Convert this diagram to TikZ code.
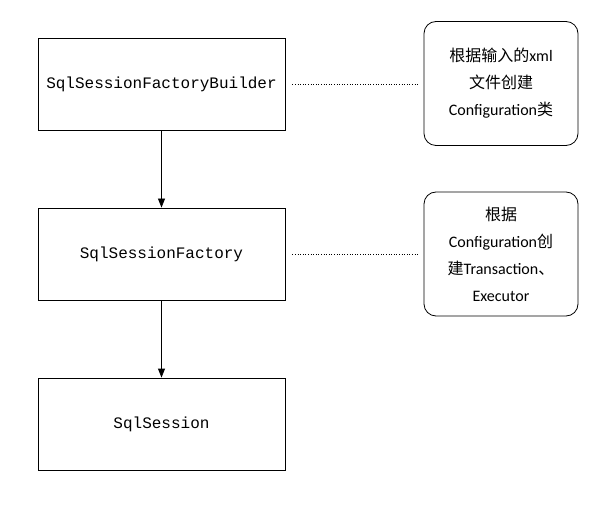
\documentclass[tikz,border=0pt]{standalone}
\usepackage{fontspec}
\setmonofont{Liberation Mono}
\setmainfont{Carlito}
\newfontfamily\cjk{Noto Sans CJK SC}
\usetikzlibrary{arrows.meta}
\begin{document}
\begin{tikzpicture}[x=1pt,y=-1pt,
 box/.style={draw,line width=0.8pt,minimum width=247pt,minimum height=92pt,font=\ttfamily\fontsize{16}{19}\selectfont},
 note/.style={draw,line width=0.8pt,rounded corners=12pt,minimum width=154pt,minimum height=124pt,align=center,font=\fontsize{16}{27}\selectfont,text width=150pt,inner sep=1pt},
 arr/.style={-{Triangle[length=9pt,width=7pt]},line width=0.8pt},
 dot/.style={dotted,line width=0.6pt}]
\useasboundingbox (0,0) rectangle (611,505);
\node[box] (b1) at (161.5,84) {SqlSessionFactoryBuilder};
\node[box] (b2) at (161.5,254) {SqlSessionFactory};
\node[box] (b3) at (161.5,424) {SqlSession};
\node[note] (n1) at (501,83.5) {{\cjk 根据输入的}xml\\{\cjk 文件创建}\\Configuration{\cjk 类}};
\node[note] (n2) at (501,254) {{\cjk 根据}\\Configuration{\cjk 创}\\{\cjk 建}Transaction{\cjk 、}\\Executor};
\draw[arr] (b1) -- (b2);
\draw[arr] (b2) -- (b3);
\draw[dot] ([xshift=7pt]b1.east) -- ([xshift=-4pt]n1.west|-b1.east);
\draw[dot] ([xshift=7pt]b2.east) -- ([xshift=-4pt]n2.west|-b2.east);
\end{tikzpicture}
\end{document}
